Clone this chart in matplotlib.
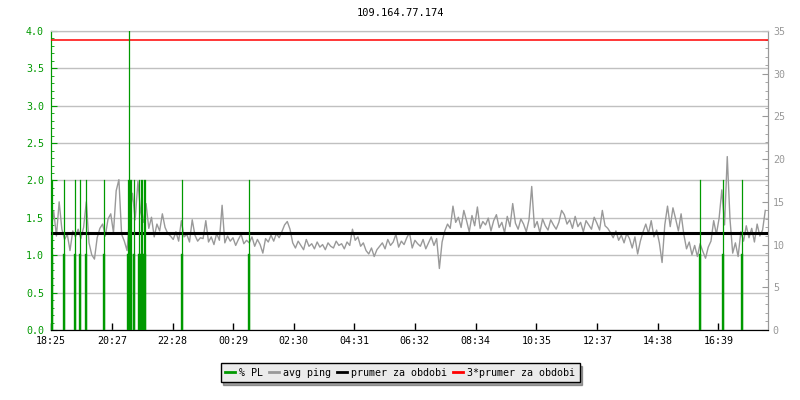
import matplotlib
matplotlib.use('Agg')
import matplotlib.pyplot as plt
import numpy as np
from matplotlib.lines import Line2D
from matplotlib.ticker import MultipleLocator

plt.rcParams['font.family'] = ['DejaVu Sans Mono']

title = '109.164.77.174'
span_min = 1433  # minutes shown on the x axis
tick_labels = ['18:25', '20:27', '22:28', '00:29', '02:30', '04:31',
               '06:32', '08:34', '10:35', '12:37', '14:38', '16:39']

# avg ping [ms], equally spaced samples over the period
avg_ping = [
    11.5, 13.9, 11.0, 15.0, 11.8,
    10.6, 11.2, 9.3, 11.6, 10.9,
    11.8, 10.7, 12.0, 15.0, 10.2, 8.8, 8.3,
    10.8, 11.9, 12.4, 11.0, 13.0, 13.6, 11.4,
    16.3, 17.6, 11.2, 10.4, 9.3,
    13.5, 16.0, 12.9, 17.4, 13.8,
    12.6, 14.8, 11.9, 13.2, 10.9, 12.4, 11.6, 13.6, 12.0, 11.3,
    11.0, 10.6, 11.5, 10.4, 12.8, 10.9, 11.2, 10.3, 12.9, 11.1, 10.4, 10.8,
    10.7, 12.8, 10.3, 10.9, 10.0, 11.3, 10.5, 14.6, 10.2, 11.0, 10.4, 10.8,
    9.9, 10.6, 11.2, 10.1, 10.5,
    10.2, 10.9, 9.8, 10.6, 10.0, 9.0, 10.7, 10.3, 11.1, 10.4, 11.3, 10.8, 11.5,
    12.3, 12.7, 11.8,
    10.2, 9.6, 10.4, 9.9, 9.4, 10.6, 9.8, 10.1, 9.5, 10.3, 9.7, 10.0, 9.4,
    10.2, 9.8, 9.6, 10.4, 9.9, 10.1, 9.5, 10.3, 9.9,
    11.8, 10.5, 10.9, 9.8, 10.2,
    9.3, 8.9, 9.6, 8.6, 9.4,
    9.8, 10.2, 9.5, 10.6, 9.9, 10.3, 11.2, 9.7, 10.4, 10.0, 10.8, 11.4, 9.6,
    10.5, 10.1, 9.8, 10.6, 9.5, 10.2, 10.9, 9.9, 10.7,
    7.2, 10.3, 11.6, 12.4, 11.9,
    14.5, 12.6, 13.2, 12.0, 14.0, 12.8, 11.5, 13.4, 12.2, 14.4, 11.9, 12.7,
    12.3, 13.1, 11.6, 12.8, 13.5, 12.0, 12.6, 11.4, 13.3, 12.1, 14.8, 12.5,
    11.8, 13.0, 12.4, 11.5, 12.9,
    16.8, 12.0, 12.7, 11.4, 13.0, 12.2, 11.7, 12.9, 12.3, 11.8, 12.6, 14.0,
    13.5, 12.4, 12.9, 11.9, 13.3, 12.1, 12.6, 11.5, 12.8, 12.3, 11.8, 13.2,
    12.5, 11.7, 14.0, 12.2, 11.9,
    11.4, 10.8, 11.6, 10.5, 11.1, 10.2, 11.3, 10.7, 9.6, 10.9, 8.9, 10.4, 11.5,
    12.4, 11.3, 12.8, 10.9, 11.7, 10.2, 7.9,
    12.3, 14.5, 12.1, 14.3, 13.0, 11.6, 13.6, 11.2,
    9.5, 10.3, 8.8, 9.9, 8.6, 10.1, 9.2, 8.4, 9.7, 10.4,
    12.8, 11.2, 13.1, 16.4, 12.3,
    20.3, 13.0,
    9.0, 10.2, 8.6,
    11.5, 10.4, 12.2, 10.8, 11.9, 10.3, 12.4, 11.0, 11.7, 14.0,
]
ping_mean = 11.3  # prumer za obdobi [ms]

# packet loss events: minute from start, % PL
pl_time = [2, 26, 48, 57, 69, 105, 153, 155, 157, 159, 166, 176, 179, 182,
           185, 188, 261, 396, 1298, 1344, 1382]
pl_value = [2.0, 2.0, 2.0, 2.0, 2.0, 2.0, 2.0, 4.0, 2.0, 2.0, 2.0, 2.0, 2.0,
            2.0, 2.0, 2.0, 2.0, 2.0, 2.0, 2.0, 2.0]

GREEN = '#009900'
GRAY = '#999999'
GRID = '#c0c0c0'
MS_PER_PL = 35 / 4  # right axis / left axis


def to_min(lbl, start):
    h, m = map(int, lbl.split(':'))
    t = h * 60 + m - start
    return t + 1440 if t < 0 else t


h0, m0 = map(int, tick_labels[0].split(':'))
tick_pos = [to_min(l, h0 * 60 + m0) for l in tick_labels]

fig = plt.figure(figsize=(8, 4), dpi=100)
ax1 = fig.add_axes([0.06375, 0.175, 0.89625, 0.7475])
ax2 = ax1.twinx()

t_ping = np.arange(len(avg_ping)) * span_min / len(avg_ping)

ax1.set_xlim(0, span_min)
ax1.set_ylim(0, 4)
ax2.set_ylim(0, 35)

# grid
ax1.yaxis.set_major_locator(MultipleLocator(0.5))
ax1.yaxis.set_minor_locator(MultipleLocator(0.1))
ax1.grid(axis='y', color=GRID, lw=1.0)
ax1.set_axisbelow(True)

ax2.plot(t_ping, avg_ping, color=GRAY, lw=1.0, zorder=2)
ax2.axhline(ping_mean, color='black', lw=2.2, zorder=3)
ax2.axhline(3 * ping_mean, color='red', lw=1.1, zorder=3)

for t, v in zip(pl_time, pl_value):
    ax2.plot([t, t], [0, v * MS_PER_PL], color=GREEN, lw=0.9, zorder=4)
    ax2.plot([t, t], [0, min(v, 1.0) * MS_PER_PL], color=GREEN, lw=1.7, zorder=4)

ax1.set_xticks(tick_pos)
ax1.set_xticklabels(tick_labels)
ax1.tick_params(axis='x', direction='in', length=5, width=1, labelsize=7.2, pad=4)
ax1.set_yticks(np.arange(0, 4.01, 0.5))
ax1.set_yticklabels(['%.1f' % v for v in np.arange(0, 4.01, 0.5)])
ax1.tick_params(axis='y', which='major', direction='in', length=4, color=GREEN,
                labelcolor=GREEN, labelsize=7.2, pad=5)
ax1.tick_params(axis='y', which='minor', direction='in', length=2.5, color=GREEN)

ax2.yaxis.set_major_locator(MultipleLocator(5))
ax2.yaxis.set_minor_locator(MultipleLocator(1))
ax2.tick_params(axis='y', which='major', direction='in', length=4, color=GRAY,
                labelcolor=GRAY, labelsize=7.2)
ax2.tick_params(axis='y', which='minor', direction='in', length=2.5, color=GRAY)

for a in (ax1, ax2):
    a.spines['left'].set_color(GREEN)
    a.spines['right'].set_color(GRAY)
    a.spines['top'].set_color(GRID)
    a.spines['bottom'].set_color('black')

fig.text(0.5, 0.967, title, ha='center', va='center', fontsize=7.5)

handles = [Line2D([], [], color=GREEN, lw=2),
           Line2D([], [], color=GRAY, lw=2),
           Line2D([], [], color='black', lw=2),
           Line2D([], [], color='red', lw=2)]
labels = ['% PL', 'avg ping', 'prumer za obdobi', '3*prumer za obdobi']
leg = fig.legend(handles, labels, loc='center', bbox_to_anchor=(0.5, 0.068),
                 ncol=4, fontsize=7.2, frameon=True, fancybox=False, shadow=True,
                 handlelength=1.0, handletextpad=0.4, columnspacing=0.6,
                 borderpad=0.45, borderaxespad=0)
leg.get_frame().set_facecolor('#ebebeb')
leg.get_frame().set_edgecolor('black')
leg.get_frame().set_alpha(1)

fig.savefig('out.png', dpi=100)
